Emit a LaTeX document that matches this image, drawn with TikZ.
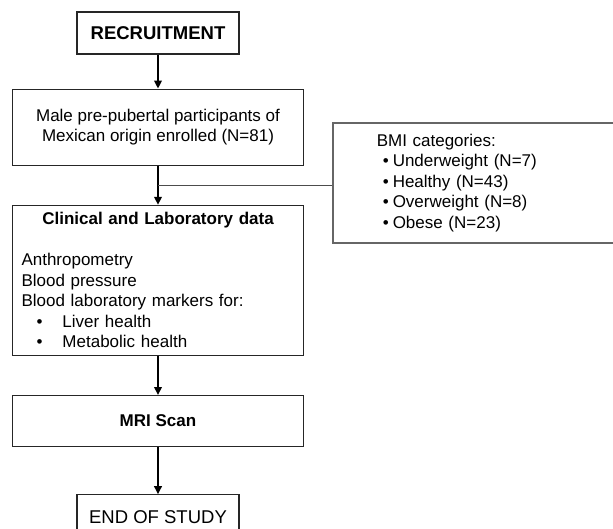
\documentclass[tikz,border=0pt]{standalone}
\usepackage{fontspec}
\setmainfont{Liberation Sans}
\usetikzlibrary{positioning,arrows.meta}

\begin{document}
\begin{tikzpicture}[
  x=1pt, y=-1pt,
  every node/.style = {font=\fontsize{17}{20.5}\selectfont},
  box/.style   = {draw=black!85, line width=1.2pt, align=center, inner sep=0pt},
  stage/.style = {box, minimum width=291pt},
  tag/.style   = {box, minimum width=162pt,
                  font=\fontsize{18.5}{22}\selectfont},
  ar/.style    = {-{Triangle[length=8pt,width=7.5pt]}, line width=2.2pt},
  link/.style  = {draw=black!70, line width=1pt}
]
\useasboundingbox (0,0) rectangle (613,528);
\clip (0,0) rectangle (613,528);

\node[tag, minimum height=42pt, font=\fontsize{18.5}{22}\selectfont\bfseries] (rec) at (158,33) {RECRUITMENT};

\node[stage, below=34pt of rec, minimum height=76pt] (enrol)
  {Male pre-pubertal participants of\\Mexican origin enrolled (N=81)};

\node[stage, below=39pt of enrol, minimum height=150pt, text width=273pt, align=left] (clin)
  {\makebox[273pt]{\bfseries Clinical and Laboratory data}\\[20.5pt]
   Anthropometry\\
   Blood pressure\\
   Blood laboratory markers for:\\
   \hspace*{15pt}\makebox[26pt][l]{•}Liver health\\
   \hspace*{15pt}\makebox[26pt][l]{•}Metabolic health};

\node[stage, below=39pt of clin, minimum height=51pt, font=\fontsize{17}{20.5}\selectfont\bfseries] (mri) {MRI Scan};

\node[tag, below=47pt of mri, minimum height=44pt] (end) {END OF STUDY};

\node[box, draw=black!60, line width=1.5pt, anchor=west, minimum height=120pt,
      text width=200pt, inner xsep=44pt, align=left] (bmi) at (332,183)
  {BMI categories:\\
   \hspace*{6pt}\makebox[10pt][l]{•}Underweight (N=7)\\
   \hspace*{6pt}\makebox[10pt][l]{•}Healthy (N=43)\\
   \hspace*{6pt}\makebox[10pt][l]{•}Overweight (N=8)\\
   \hspace*{6pt}\makebox[10pt][l]{•}Obese (N=23)};

\draw[ar] (rec) -- (enrol);
\draw[ar] (enrol) -- (clin);
\draw[ar] (clin) -- (mri);
\draw[ar] (mri) -- (end);

\path (enrol.south) -- (clin.north) coordinate[midway] (tap);
\draw[link] (tap) -- (tap -| bmi.west);

\end{tikzpicture}
\end{document}
